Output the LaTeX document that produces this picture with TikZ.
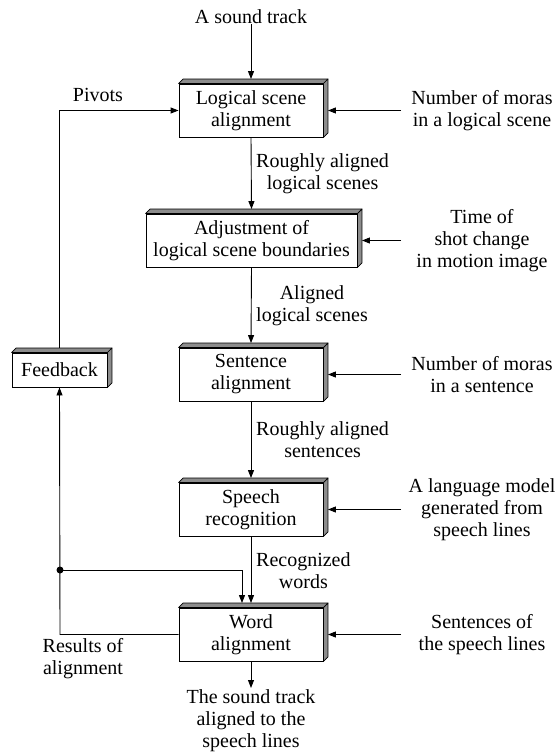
\documentclass[tikz,border=0pt]{standalone}
\usepackage{fontspec}
\setmainfont{Liberation Serif}
\usetikzlibrary{arrows.meta,calc}
\tikzset{
  flowbox/.style={draw=black, fill=white, line width=0.9pt, minimum width=144pt,
    minimum height=53pt, inner sep=0pt, align=center},
  lbl/.style={align=center, inner sep=0pt},
  conn/.style={draw=black, line width=0.9pt},
  arr/.style={conn, -{Triangle[length=8pt,width=6pt]}},
  side/.style={fill=black!45, draw=black, line width=0.7pt, line join=round},
}
% top and right faces that give a box its depth
\newcommand\boxdepth[1]{%
  \filldraw[side] (#1.north west) -- ++(4.5pt,4.5pt)
    -- ([shift={(4.5pt,4.5pt)}]#1.north east) -- (#1.north east) -- cycle;
  \filldraw[side] (#1.north east) -- ++(4.5pt,4.5pt)
    -- ([shift={(4.5pt,4.5pt)}]#1.south east) -- (#1.south east) -- cycle;
}
\begin{document}
\begin{tikzpicture}[x=1pt,y=-1pt,font=\fontsize{20}{22}\selectfont]
\useasboundingbox (0,0) rectangle (557,754);

% process boxes
\node[flowbox] (b1) at (251,110.5) {Logical scene\\alignment};
\node[flowbox, minimum width=211pt] (b2) at (251.5,240.5) {Adjustment of\\logical scene boundaries};
\node[flowbox] (b3) at (251,374.5) {Sentence\\alignment};
\node[flowbox] (b4) at (251,509.5) {Speech\\recognition};
\node[flowbox] (b5) at (251,634.5) {Word\\alignment};
\node[flowbox, minimum width=95pt, minimum height=34pt] (fb) at (59.5,370) {Feedback};
\foreach \b in {b1,b2,b3,b4,b5,fb} {\boxdepth{\b}}

% input at the top, output at the bottom
\node[lbl] (in) at (251,17) {A sound track};
\node[lbl] (out) at (251,721) {The sound track\\aligned to the\\speech lines};
\coordinate (outtip) at (251,688);

% side inputs
\node[lbl] (r1) at (482,110.5) {Number of moras\\in a logical scene};
\node[lbl] (r2) at (482,240.5) {Time of\\shot change\\in motion image};
\node[lbl] (r3) at (482,374.5) {Number of moras\\in a sentence};
\node[lbl] (r4) at (482,509.5) {A language model\\generated from\\speech lines};
\node[lbl] (r5) at (482,634.5) {Sentences of\\the speech lines};
\foreach \b/\y in {b1/110.5,b2/240.5,b3/374.5,b4/509.5,b5/634.5} {
  \coordinate (s\b) at (401,\y);
  \draw[arr] (s\b) -- ([xshift=4.5pt]\b.east);
}

% labels on the main flow
\node[lbl, anchor=west] (l1) at (256,173.5) {Roughly aligned\\logical scenes};
\node[lbl, anchor=west] (l2) at (256,305.5) {Aligned\\logical scenes};
\node[lbl, anchor=west] (l3) at (256,440) {Roughly aligned\\sentences};
\node[lbl, anchor=west] (l4) at (256,570.5) {Recognized\\words};

% main flow
\draw[arr] (in.south) -- ([yshift=4.5pt]b1.north);
\draw[arr] (b1.south) -- ([yshift=4.5pt]b2.north);
\draw[arr] (b2.south) -- ([yshift=4.5pt]b3.north);
\draw[arr] (b3.south) -- ([yshift=4.5pt]b4.north);
\draw[arr] (b4.south) -- ([yshift=4.5pt]b5.north);
\draw[arr] (b5.south) -- (outtip);

% feedback loop
\node[lbl] (piv) at (98,95) {Pivots};
\node[lbl] (res) at (83,659) {Results of\\alignment};
\coordinate (corner) at (60,634.5);
\coordinate (split) at (60,570);
\draw[arr] (b5.west) -- (corner) -- (fb.south);
\draw[arr] ([yshift=4.5pt]fb.north) |- (b1.west);
\draw[arr] (split) -| ([xshift=-9pt,yshift=4.5pt]b5.north);
\fill (split) circle (3.5pt);
\end{tikzpicture}
\end{document}
